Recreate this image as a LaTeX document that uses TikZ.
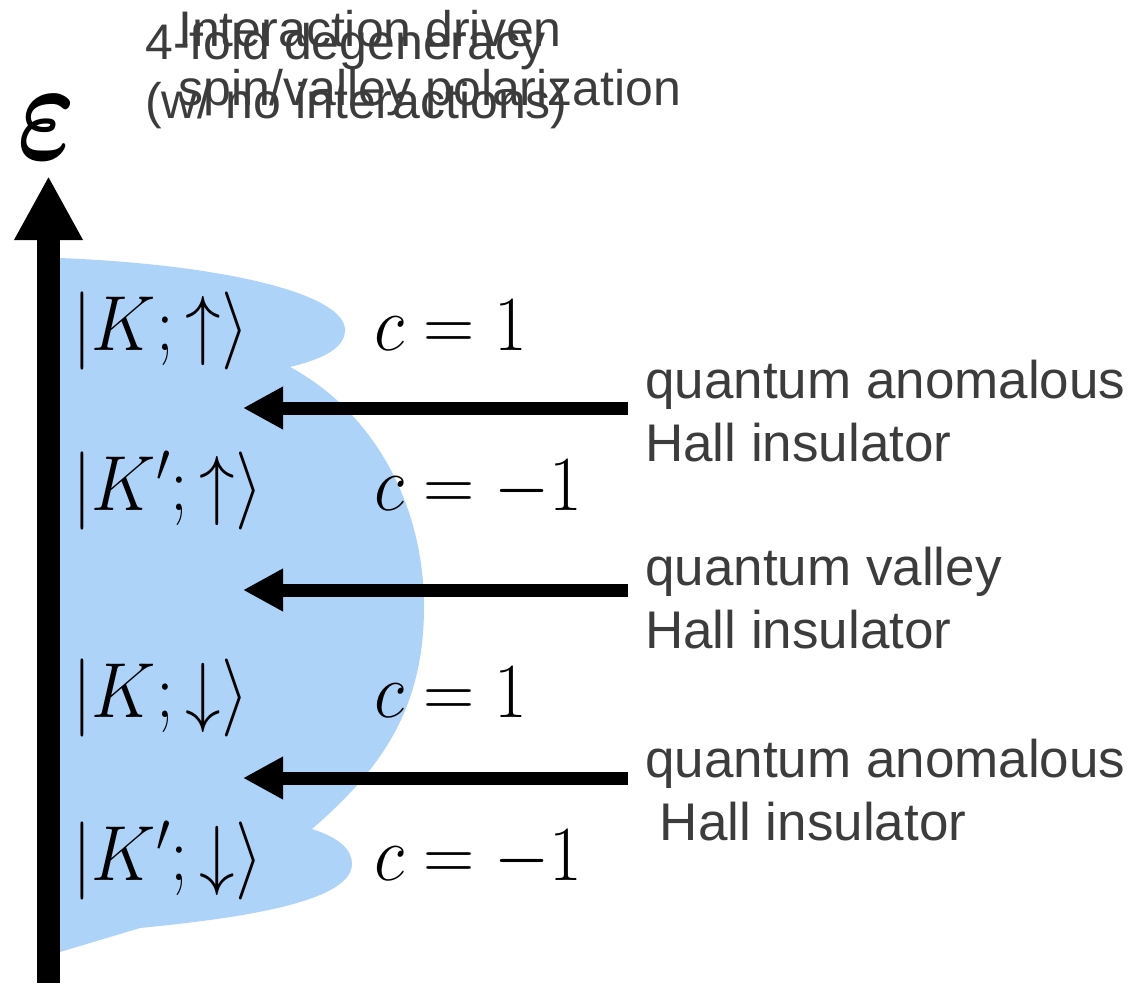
\RequirePackage{fix-cm}
\documentclass[tikz,border=0pt]{standalone}
\usepackage{fontspec}
\usepackage{amsmath}
\usepackage{bm}
\usepackage{graphicx}
\usetikzlibrary{arrows.meta}
\newfontfamily\labelsans{Liberation Sans}
\definecolor{bandblue}{RGB}{174,211,248}
\definecolor{labelgray}{RGB}{60,60,60}
\newcommand{\tallmath}[1]{\scalebox{1}[1.1]{$#1$}}

\begin{document}
\begin{tikzpicture}[
    x=1pt, y=-1pt,
    ket/.style={anchor=base west, inner sep=0pt, font=\fontsize{71}{84}\selectfont},
    note/.style={anchor=base west, inner sep=0pt, align=left, text=labelgray,
                 font=\labelsans\fontsize{50}{59}\selectfont},
    phase/.style={anchor=base west, inner sep=0pt, align=left, text=labelgray,
                  font=\labelsans\fontsize{53}{63}\selectfont},
    energyaxis/.style={line width=23pt, -{Triangle[length=64pt, width=64pt]}},
    levelarrow/.style={line width=13pt, -{Triangle[length=40pt, width=40pt]}}
]
\useasboundingbox (0,0) rectangle (1132,983);
%% blue density of states
\fill[bandblue] (48,257) -- (60,258)
    .. controls (230,265) and (345,295) .. (345,330)
    .. controls (345,350) and (318,360) .. (290,367)
    .. controls (370,410) and (424,500) .. (424,607)
    .. controls (424,710) and (380,770) .. (312,829)
    .. controls (340,838) and (352,850) .. (352,864)
    .. controls (352,905) and (220,920) .. (140,928)
    -- (60,952) -- (48,955) -- cycle;
%% energy axis
\coordinate (ebottom) at (48.5,983);
\coordinate (etop) at (48.5,176);
\draw[energyaxis] (ebottom) -- (etop);
\node (eps) at (47,128) {\fontsize{110}{120}\selectfont\scalebox{1}[1.3]{$\bm{\varepsilon}$}};
%% headings (base = last line)
\node[note] (degen) at (145,118) {4-fold degeneracy\\(w/ no interactions)};
\node[note] (polar) at (178,105) {Interaction driven\\spin/valley polarization};
%% levels
\node[ket] (kup) at (72,350) {\tallmath{|K;\uparrow\rangle}};
\node[ket] (kpup) at (72,510) {\tallmath{|K';\uparrow\rangle}};
\node[ket] (kdn) at (72,717) {\tallmath{|K;\downarrow\rangle}};
\node[ket] (kpdn) at (72,880) {\tallmath{|K';\downarrow\rangle}};
\node[ket] (ckup) at (374,350) {\tallmath{c=1}};
\node[ket] (ckpup) at (374,510) {\tallmath{c=-1}};
\node[ket] (ckdn) at (374,717) {\tallmath{c=1}};
\node[ket] (ckpdn) at (374,880) {\tallmath{c=-1}};
%% insulating phases
\node[phase] (qahtop) at (645,461) {quantum anomalous\\Hall insulator};
\node[phase] (qvh) at (645,648) {quantum valley\\Hall insulator};
\node[phase] (qahbot) at (645,840) {quantum anomalous\\~Hall insulator};
\coordinate (qahtoptail) at (628,408);
\coordinate (qahtoptip) at (243,408);
\coordinate (qvhtail) at (628,590);
\coordinate (qvhtip) at (243,590);
\coordinate (qahbottail) at (628,778);
\coordinate (qahbottip) at (243,778);
\draw[levelarrow] (qahtoptail) -- (qahtoptip);
\draw[levelarrow] (qvhtail) -- (qvhtip);
\draw[levelarrow] (qahbottail) -- (qahbottip);
\end{tikzpicture}
\end{document}
